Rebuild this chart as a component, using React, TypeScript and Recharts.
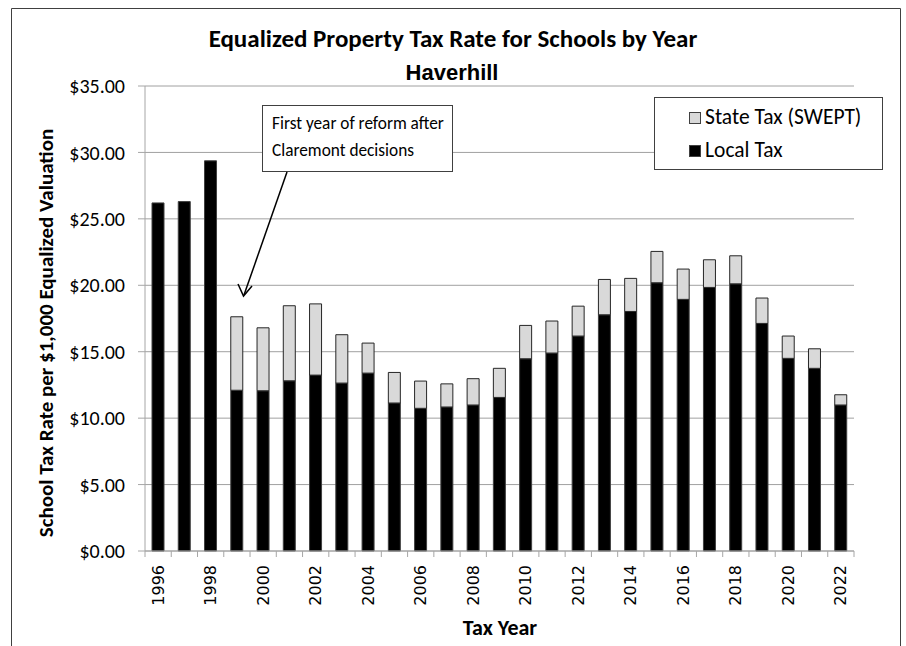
import React from 'react'
import { BarChart, Bar, XAxis, YAxis, CartesianGrid } from 'recharts'

const years = [
  1996, 1997, 1998, 1999, 2000, 2001, 2002, 2003, 2004, 2005, 2006, 2007, 2008, 2009,
  2010, 2011, 2012, 2013, 2014, 2015, 2016, 2017, 2018, 2019, 2020, 2021, 2022,
]
const localTax = [
  26.2, 26.3, 29.37, 12.1, 12.06, 12.81, 13.24, 12.64, 13.39, 11.14, 10.74, 10.84, 10.99, 11.56,
  14.47, 14.9, 16.18, 17.78, 18.03, 20.19, 18.94, 19.84, 20.11, 17.13, 14.5, 13.75, 10.99,
]
const totalTax = [
  26.2, 26.3, 29.37, 17.63, 16.8, 18.46, 18.6, 16.28, 15.65, 13.44, 12.79, 12.58, 12.97, 13.75,
  16.98, 17.31, 18.43, 20.44, 20.52, 22.55, 21.22, 21.92, 22.22, 19.04, 16.18, 15.22, 11.76,
]
const yTicks = [0, 5, 10, 15, 20, 25, 30, 35]
const legendItems = [
  { label: 'State Tax (SWEPT)', fill: '#d9d9d9' },
  { label: 'Local Tax', fill: '#000' },
]

const data = years.map((year, i) => ({
  year: String(year),
  local: localTax[i],
  state: +(totalTax[i] - localTax[i]).toFixed(2),
}))

const FONT = 'Carlito, Calibri, Lato, sans-serif'

const YearTick = (props: any) => {
  const { x, y, payload, index } = props
  const bw = 709 / years.length
  const left = x - bw / 2
  return (
    <g>
      <line x1={left} y1={y - 8} x2={left} y2={y - 2} stroke="#a6a6a6" />
      {index === years.length - 1 && (
        <line x1={x + bw / 2} y1={y - 8} x2={x + bw / 2} y2={y - 2} stroke="#a6a6a6" />
      )}
      {index % 2 === 0 && (
        <text
          x={x}
          y={y + 6}
          transform={`rotate(-90 ${x} ${y + 6})`}
          textAnchor="end"
          dominantBaseline="central"
          fontFamily="DejaVu Sans, sans-serif"
          fontSize={16}
          fill="#000"
        >
          {payload.value}
        </text>
      )}
    </g>
  )
}

export default function App() {
  return (
    <div style={{ position: 'absolute', left: 0, top: 0, width: 906, height: 646, background: '#fff', overflow: 'hidden' }}>
      <BarChart
        width={906}
        height={646}
        data={data}
        margin={{ top: 86, right: 52, bottom: 35, left: 65 }}
        barSize={12}
      >
        <CartesianGrid vertical={false} stroke="#a0a0a0" />
        <XAxis
          dataKey="year"
          interval={0}
          tickLine={false}
          axisLine={{ stroke: '#a6a6a6' }}
          tick={<YearTick />}
          height={60}
        />
        <YAxis
          width={80}
          domain={[0, 35]}
          ticks={yTicks}
          tickFormatter={(v: number) => `$${v.toFixed(2)}`}
          tickSize={7}
          tickMargin={13}
          axisLine={{ stroke: '#a6a6a6' }}
          tickLine={{ stroke: '#a6a6a6' }}
          tick={{ fill: '#000', fontFamily: FONT, fontSize: 20 }}
        />
        <Bar dataKey="local" name="Local Tax" stackId="a" fill="#000" stroke="#404040" strokeWidth={1} isAnimationActive={false} />
        <Bar dataKey="state" name="State Tax (SWEPT)" stackId="a" fill="#d9d9d9" stroke="#262626" strokeWidth={1} isAnimationActive={false} />
      </BarChart>
      <svg width={906} height={646} style={{ position: 'absolute', left: 0, top: 0, pointerEvents: 'none' }}>
        <path d="M11.5 660 V8.5 H900.5 V660" fill="none" stroke="#404040" />
        <text x={453} y={47} textAnchor="middle" fontFamily={FONT} fontWeight="bold" fontSize={25}>
          Equalized Property Tax Rate for Schools by Year
        </text>
        <text x={452} y={80} textAnchor="middle" fontFamily="Liberation Sans, Arial, sans-serif" fontWeight="bold" fontSize={22}>
          Haverhill
        </text>
        <text
          x={53}
          y={333}
          transform="rotate(-90 53 333)"
          textAnchor="middle"
          fontFamily={FONT}
          fontWeight="bold"
          fontSize={21}
        >
          School Tax Rate per $1,000 Equalized Valuation
        </text>
        <text x={500} y={635} textAnchor="middle" fontFamily={FONT} fontWeight="bold" fontSize={22}>
          Tax Year
        </text>
        <rect x={262.5} y={105.5} width={190} height={66} fill="#fff" stroke="#404040" />
        <text x={272} y={129} fontFamily={FONT} fontSize={17.3}>
          First year of reform after
        </text>
        <text x={272} y={156} fontFamily={FONT} fontSize={17.3}>
          Claremont decisions
        </text>
        <line x1={287} y1={172} x2={244} y2={295} stroke="#000" strokeWidth={1.5} />
        <path d="M238 284 L243.5 296 L252 286" fill="none" stroke="#000" strokeWidth={1.5} />
      </svg>
      <div
        style={{
          position: 'absolute',
          left: 654,
          top: 97,
          width: 229,
          height: 73,
          border: '1px solid #404040',
          background: '#fff',
          fontFamily: FONT,
          fontSize: 21.5,
          boxSizing: 'border-box',
          paddingTop: 3,
        }}
      >
        {legendItems.map((it) => (
          <div key={it.label} style={{ display: 'flex', alignItems: 'center', height: 33, paddingLeft: 34 }}>
            <span
              style={{
                display: 'inline-block',
                width: 10,
                height: 10,
                background: it.fill,
                border: '1px solid #404040',
                marginRight: 4,
              }}
            />
            <span style={{ lineHeight: '33px' }}>{it.label}</span>
          </div>
        ))}
      </div>
    </div>
  )
}
